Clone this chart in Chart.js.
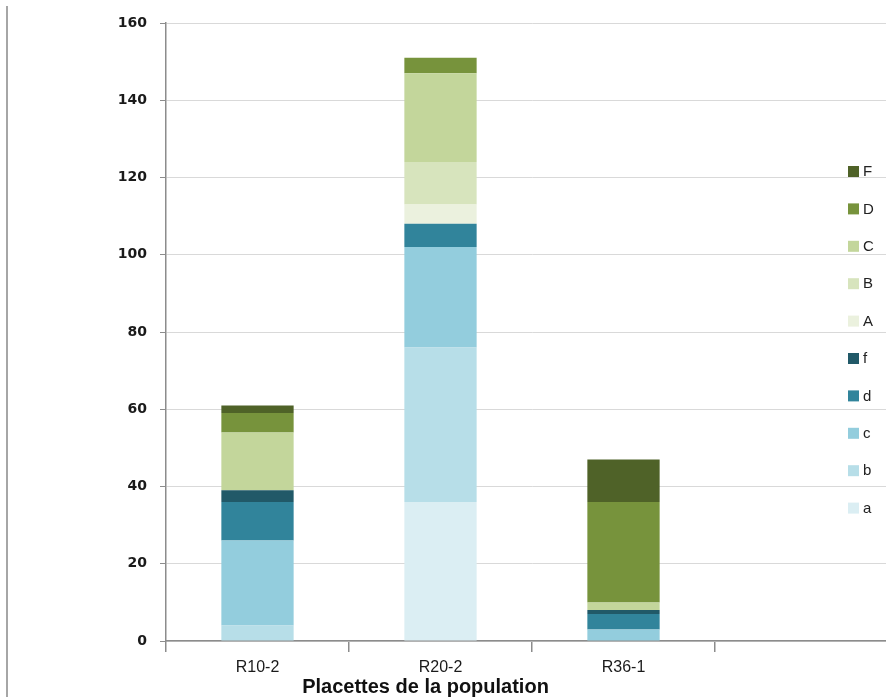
<!DOCTYPE html>
<html lang="fr">
<head>
    <meta charset="UTF-8">
    <title>Placettes de la population</title>
    <script src="https://cdn.jsdelivr.net/npm/chart.js"></script>
    <style>
        body { margin: 0; overflow: hidden; background: #fff; }
        #wrap { position: relative; width: 886px; height: 697px; overflow: hidden; }
        canvas { position: absolute; left: 0; top: 0; }
        #xtitle { position: absolute; left: 0; width: 851px; top: 675px; text-align: center;
                  font: bold 20px "Liberation Sans", Arial, sans-serif; color: #111; white-space: nowrap; }
    </style>
</head>
<body>
    <div id="wrap">
        <canvas id="chartCanvas" width="900" height="697"></canvas>
        <div id="xtitle">Placettes de la population</div>
    </div>

    <script>
        // categories (the 4th slot is empty in the original chart)
        const categories = ['R10-2', 'R20-2', 'R36-1', ''];

        // series values, bottom to top of each stack
        const a = [0, 36, 0, 0];
        const b = [4, 40, 0, 0];
        const c = [22, 26, 3, 0];
        const d = [10, 6, 4, 0];
        const f = [3, 0, 1, 0];
        const A = [0, 5, 0, 0];
        const B = [0, 11, 0, 0];
        const C = [15, 23, 2, 0];
        const D = [5, 4, 26, 0];
        const F = [2, 0, 11, 0];

        const seriesNames = ['a', 'b', 'c', 'd', 'f', 'A', 'B', 'C', 'D', 'F'];
        const seriesValues = [a, b, c, d, f, A, B, C, D, F];
        const seriesColors = ['#dbeef3', '#b7dee8', '#93cddd', '#31849b', '#215968',
                              '#ebf1de', '#d7e4bd', '#c3d69b', '#77933c', '#4f6228'];

        const yTicks = [0, 20, 40, 60, 80, 100, 120, 140, 160];

        // legend drawn over the right side of the plot, F at top down to a
        const sideLegend = {
            id: 'sideLegend',
            afterDraw(chart) {
                const ctx = chart.ctx;
                const sets = chart.data.datasets;
                ctx.save();
                ctx.font = '15px "Liberation Sans", Arial, sans-serif';
                ctx.textBaseline = 'middle';
                ctx.textAlign = 'left';
                for (let i = 0; i < sets.length; i++) {
                    const ds = sets[sets.length - 1 - i];
                    const y = 171 + i * 37.4;
                    ctx.fillStyle = ds.backgroundColor;
                    ctx.fillRect(848, y - 5, 11, 11);
                    ctx.fillStyle = '#222';
                    ctx.fillText(ds.label, 863, y + 1);
                }
                ctx.restore();
            }
        };

        // thin frame line at the far left
        const leftRule = {
            id: 'leftRule',
            beforeDraw(chart) {
                const ctx = chart.ctx;
                ctx.save();
                ctx.strokeStyle = '#a6a6a6';
                ctx.lineWidth = 2;
                ctx.beginPath();
                ctx.moveTo(7, 6);
                ctx.lineTo(7, 697);
                ctx.stroke();
                ctx.restore();
            }
        };

        const ctx = document.getElementById('chartCanvas').getContext('2d');
        const chart = new Chart(ctx, {
            type: 'bar',
            data: {
                labels: categories,
                datasets: seriesNames.map((name, i) => ({
                    label: name,
                    data: seriesValues[i],
                    backgroundColor: seriesColors[i],
                    borderWidth: 0,
                    categoryPercentage: 1,
                    barPercentage: 0.395
                }))
            },
            options: {
                responsive: false,
                animation: false,
                devicePixelRatio: 1,
                layout: { padding: { left: 0, right: 2, top: 23, bottom: 0 } },
                plugins: { legend: { display: false }, tooltip: { enabled: false } },
                scales: {
                    x: {
                        stacked: true,
                        grid: { drawOnChartArea: false, offset: true, tickLength: 11, color: '#8c8c8c', lineWidth: 1.5 },
                        border: { color: '#8c8c8c', width: 1.5 },
                        ticks: { color: '#1a1a1a', padding: 6, font: { family: '"Liberation Sans", Arial, sans-serif', size: 16 } },
                        afterFit(scale) { scale.height = 56; }
                    },
                    y: {
                        stacked: true,
                        min: 0,
                        max: 160,
                        afterBuildTicks(scale) { scale.ticks = yTicks.map(v => ({ value: v })); },
                        grid: { color: '#d9d9d9', lineWidth: 1, tickLength: 6, tickColor: '#8c8c8c' },
                        border: { color: '#8c8c8c', width: 1.5 },
                        ticks: { color: '#1a1a1a', padding: 13, font: { family: '"DejaVu Sans", Verdana, sans-serif', size: 14, weight: 'bold' } },
                        afterFit(scale) { scale.width = 166; }
                    }
                }
            },
            plugins: [leftRule, sideLegend]
        });
    </script>
</body>
</html>
